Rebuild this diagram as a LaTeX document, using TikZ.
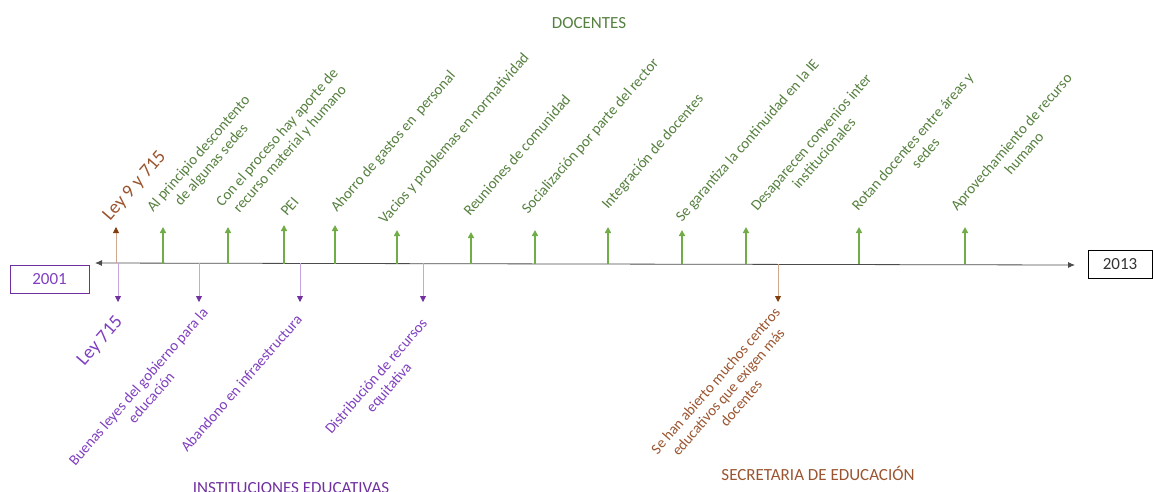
\documentclass[tikz,border=0pt]{standalone}
\usepackage{fontspec}
\setmainfont{Carlito}
\usetikzlibrary{%
  arrows.meta,%
  positioning%
}
\definecolor{docgreen}{HTML}{56803F}
\definecolor{arrgreen}{HTML}{70AD47}
\definecolor{instpurple}{HTML}{7F3FBF}
\definecolor{linepurple}{HTML}{C6A6E0}
\definecolor{tippurple}{HTML}{7030A0}
\definecolor{secbrown}{HTML}{9A5530}
\definecolor{linebrown}{HTML}{CFA88F}
\definecolor{tipbrown}{HTML}{843C0C}

\begin{document}
\begin{tikzpicture}[
    x=1pt, y=-1pt,
    year/.style={draw, thick, minimum height=28pt, inner sep=0pt, font=\fontsize{17}{20}\selectfont},
    lbl/.style={inner sep=0pt, rotate=49, align=center, font=\fontsize{15}{17}\selectfont},
    big/.style={font=\fontsize{19}{22}\selectfont},
    title/.style={font=\fontsize{17}{20}\selectfont},
    up/.style={-{Triangle[length=6pt,width=6pt]}, line width=1.5pt, arrgreen},
    down/.style={-{Triangle[length=6pt,width=6pt,color=tippurple]}, line width=0.8pt, linepurple}
  ]
  \useasboundingbox (0,0) rectangle (1153,491);

  % draw years and time line
  \node[year, draw=tippurple, text=instpurple, minimum width=79pt] at (49.5,279.5) (2001) {2001};
  \node[year, draw=black, text=black!80, minimum width=64pt] at (1120,264) (2013) {2013};
  \coordinate (tl) at (95,263);
  \coordinate (tr) at (1075,265);
  \draw[{Latex[length=7pt,width=6pt]}-{Latex[length=7pt,width=6pt]}, black!70, thick] (tl) -- (tr);

  % draw arrows for docentes
  \foreach \n/\x/\y in {1/163/227, 2/228/227, 3/284/225, 4/335/225, 5/397/230, 6/471/232,
                        7/535/230, 8/608/227, 9/682/230, 10/746/227, 11/859/227, 12/965/227}{
    \coordinate (g\n) at (\x,264);
    \coordinate (h\n) at (\x,\y);
    \draw[up] (g\n) -- (h\n);}
  \coordinate (g0) at (116,263);
  \coordinate (h0) at (116,227);
  \draw[-{Triangle[length=6pt,width=6pt,color=tipbrown]}, line width=0.8pt, linebrown] (g0) -- (h0);

  % draw arrows for instituciones and secretaria
  \foreach \n/\x in {1/118, 2/199, 3/300, 4/423}{
    \coordinate (p\n) at (\x,263);
    \coordinate (q\n) at (\x,302);
    \draw[down] (p\n) -- (q\n);}
  \coordinate (p5) at (778,264);
  \coordinate (q5) at (778,302);
  \draw[-{Triangle[length=6pt,width=6pt,color=tipbrown]}, line width=0.8pt, linebrown] (p5) -- (q5);

  % labels docentes (base = last line)
  \node[lbl, big, anchor=base west, text=secbrown] at (110,222) (l0) {Ley 9 y 715};
  \node[lbl, anchor=base west, text=docgreen] at (166,224) (l1) {Al principio descontento\\de algunas sedes};
  \node[lbl, anchor=base west, text=docgreen] at (235,219) (l2) {Con el proceso hay aporte de\\recurso material y humano};
  \node[lbl, anchor=base west, text=docgreen] at (287,217) (l3) {PEI};
  \node[lbl, anchor=base west, text=docgreen] at (337,213) (l4) {Ahorro de gastos en~ personal};
  \node[lbl, anchor=base west, text=docgreen] at (385,225) (l5) {Vacios y problemas en normatividad};
  \node[lbl, anchor=base west, text=docgreen] at (470,217) (l6) {Reuniones de comunidad};
  \node[lbl, anchor=base west, text=docgreen] at (528,215) (l7) {Socialización por parte del rector};
  \node[lbl, anchor=base west, text=docgreen] at (608,210) (l8) {Integración de docentes};
  \node[lbl, anchor=base west, text=docgreen] at (682,223) (l9) {Se garantiza la continuidad en la IE};
  \node[lbl, anchor=base west, text=docgreen] at (770,223) (l10) {Desaparecen convenios inter\\institucionales};
  \node[lbl, anchor=base west, text=docgreen] at (871,223) (l11) {Rotan docentes entre áreas y\\sedes};
  \node[lbl, anchor=base west, text=docgreen] at (970,223) (l12) {Aprovechamiento de recurso\\humano};

  % labels instituciones and secretaria
  \node[lbl, big, anchor=north east, text=instpurple] at (114,314) (m1) {Ley 715};
  \node[lbl, anchor=north east, text=instpurple] at (201,306) (m2) {Buenas leyes del gobierno para la\\educación};
  \node[lbl, anchor=north east, text=instpurple] at (295,313) (m3) {Abandono en infraestructura};
  \node[lbl, anchor=north east, text=instpurple] at (420,317) (m4) {Distribución de recursos\\equitativa};
  \node[lbl, anchor=north east, text=secbrown] at (773,306) (m5) {Se han abierto muchos centros\\educativos que exigen más\\docentes};

  % titles
  \node[title, text=docgreen] at (589,23) (docentes) {DOCENTES};
  \node[title, text=tippurple] at (291,488) (inst) {INSTITUCIONES EDUCATIVAS};
  \node[title, text=secbrown] at (818,473) (sec) {SECRETARIA DE EDUCACIÓN};
\end{tikzpicture}
\end{document}
